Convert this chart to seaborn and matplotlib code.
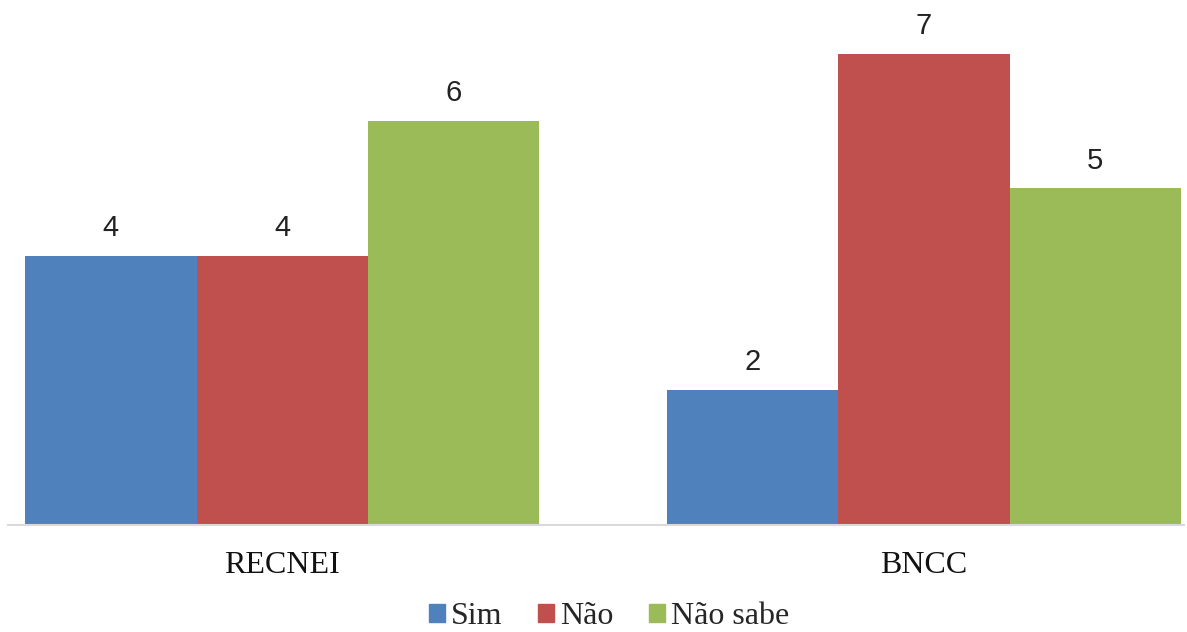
import matplotlib
matplotlib.use("Agg")
import matplotlib.pyplot as plt
import seaborn as sns
import pandas as pd

categories = ["RECNEI", "BNCC"]
series = ["Sim", "Não", "Não sabe"]
sim = [4, 2]
nao = [4, 7]
nao_sabe = [6, 5]
colors = ["#4F81BD", "#C0504D", "#9BBB59"]

rows = []
for cat, a, b, c in zip(categories, sim, nao, nao_sabe):
    rows += [(cat, series[0], a), (cat, series[1], b), (cat, series[2], c)]
df = pd.DataFrame(rows, columns=["doc", "resp", "valor"])

sns.set_theme(style="white")
plt.rcParams["font.family"] = ["Liberation Serif", "DejaVu Serif"]

fig = plt.figure(figsize=(11.87, 6.32), dpi=100)
ax = fig.add_axes([8 / 1187, 107 / 632, 1176 / 1187, 525 / 632])

sns.barplot(data=df, x="doc", y="valor", hue="resp", hue_order=series,
            palette=colors, width=0.8, gap=0, saturation=1, ax=ax,
            edgecolor="none", linewidth=0)

for cont in ax.containers:
    ax.bar_label(cont, fmt="%d", padding=10, fontsize=21,
                 family=["Liberation Sans"], color="#222222")

ax.set_xlim(-0.427, 1.405)
ax.set_ylim(0, 7.8)
ax.set_xlabel("")
ax.set_ylabel("")
ax.set_yticks([])
ax.tick_params(axis="x", length=0, labelsize=23, pad=19, colors="#111111")
for s in ["top", "right", "left"]:
    ax.spines[s].set_visible(False)
ax.spines["bottom"].set_color("#D9D9D9")
ax.spines["bottom"].set_linewidth(1.5)

ax.legend_.remove()
handles = [plt.Rectangle((0, 0), 1, 1, color=c) for c in colors]
fig.legend(handles, series, loc="center", bbox_to_anchor=(609 / 1187, 1 - 617 / 632),
           ncol=3, frameon=False, fontsize=23, handlelength=0.5, handleheight=0.5,
           handletextpad=0.2, columnspacing=1.1, borderpad=0.05)

fig.savefig("out.png", dpi=100)
